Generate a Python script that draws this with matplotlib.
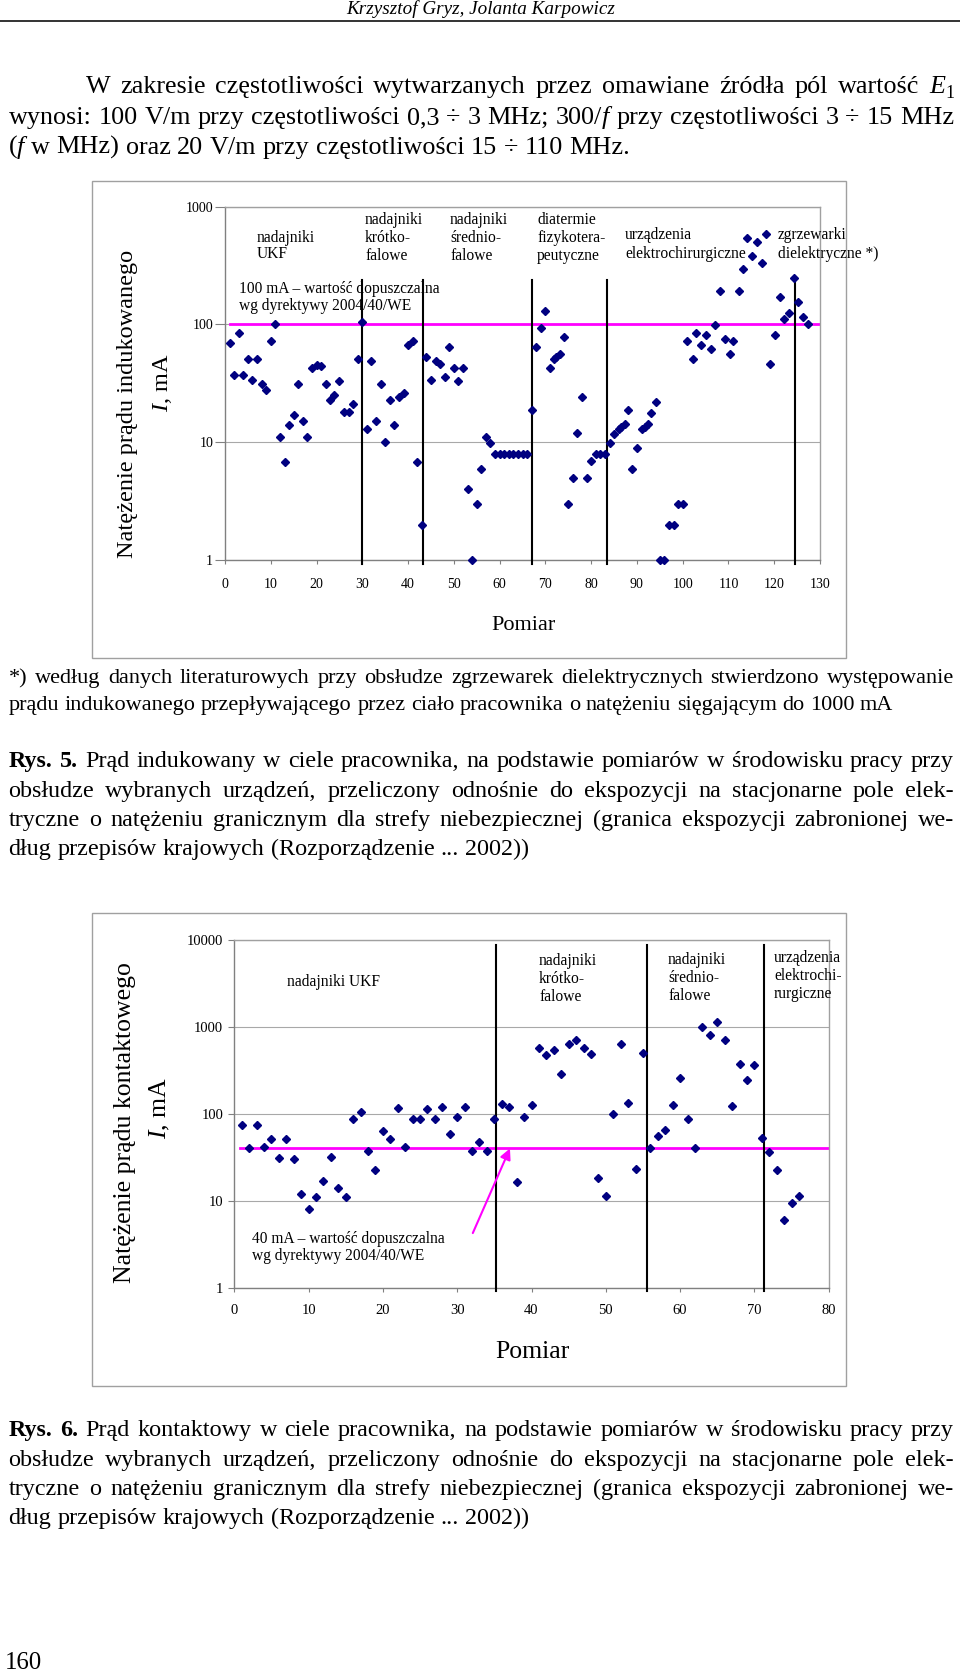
import re
import matplotlib
matplotlib.use('Agg')
import matplotlib.pyplot as plt
from matplotlib.patches import Rectangle
from matplotlib.lines import Line2D
from matplotlib.ticker import NullLocator, FixedLocator, FixedFormatter

W, H, DPI = 960, 1676, 100
SERIF = ['Liberation Serif', 'DejaVu Serif']
plt.rcParams['font.family'] = SERIF
plt.rcParams['mathtext.fontset'] = 'custom'
plt.rcParams['mathtext.rm'] = 'Liberation Serif'
plt.rcParams['mathtext.it'] = 'Liberation Serif:italic'

# ================= DATA: Rys. 5 - induced current =================
ind_x = [1, 2, 3, 4, 5, 6, 7, 8, 9, 10,
         11, 12, 13, 14, 15, 16, 17, 18, 19, 20,
         21, 22, 23, 23.8, 25, 26, 27, 28, 29, 30,
         31, 32, 33, 34, 35, 36, 37, 38, 39, 40,
         41, 42, 43, 44, 45, 46, 47, 48, 49, 50,
         51, 52, 53, 54, 55, 56, 57, 58, 59, 60,
         61, 62, 63, 64, 65, 66, 67, 68, 69, 70,
         71, 71.8, 72.4, 73.1, 74, 75, 76, 77, 78, 79,
         80, 81, 82, 83, 84.2, 84.9, 86, 86.5, 87.3, 88,
         89, 90, 91.2, 91.8, 92.4, 93.1, 94.1, 95.1, 95.9, 97,
         98, 99, 100, 101, 102.3, 103, 104, 105.2, 106.2, 107.1,
         108.1, 109.3, 110.3, 111.1, 112.2, 113.2, 114.1, 115.2, 116.2, 117.3,
         118.1, 119.1, 120.2, 121.2, 122.1, 123.2, 124.3, 125.2, 126.2, 127.4]
ind_y = [69, 37, 84, 37, 51, 34, 51, 31, 28, 72,
         100, 11, 6.8, 14, 17, 31, 15, 11, 43, 45,
         44, 31, 23, 25, 33, 18, 18, 21, 51, 104,
         13, 49, 15, 31, 10, 23, 14, 24, 26, 67,
         73, 6.8, 2, 53, 34, 49, 46, 36, 64, 43,
         33, 43, 4, 1, 3, 5.9, 11, 9.8, 8, 8,
         8, 8, 8, 8, 8, 8, 18.8, 64, 93, 130,
         43, 51, 53, 56, 78, 3, 5, 11.9, 24, 5,
         6.9, 8, 8, 8, 9.9, 11.7, 12.9, 13.4, 14.2, 18.8,
         5.9, 9, 12.9, 13.6, 14.2, 17.8, 21.9, 1, 1, 2,
         2, 3, 3, 73, 51, 85, 67, 81, 61.5, 98,
         194, 76, 56, 72, 194, 296, 538, 384, 505, 330,
         586, 46, 81, 172, 111, 124, 250, 156, 115, 100]
ind_limit = 100
ind_dividers = [30, 43.2, 67, 83.4, 124.6]
ind_xticks = list(range(0, 131, 10))
ind_yticks = [1, 10, 100, 1000]

# ================= DATA: Rys. 6 - contact current =================
con_x = list(range(1, 77))
con_y = [75, 41, 75, 42, 52, 31, 52, 30, 12, 8.1,
         11, 17, 32, 14, 11, 87, 106, 37, 22.5, 63,
         52, 116, 42, 87, 87, 113, 87, 121, 59, 93,
         121, 37, 48, 37, 87, 130, 121, 16.4, 93, 127,
         578, 477, 540, 288, 638, 709, 578, 494, 18.5, 11.4,
         100, 638, 135, 23, 507, 41, 55, 65, 127, 257,
         88, 41, 990, 809, 1150, 703, 124, 376, 246, 366,
         53, 36, 22.7, 6.05, 9.4, 11.4]
con_limit = 40
con_dividers = [35.2, 55.6, 71.3]
con_xticks = list(range(0, 81, 10))
con_yticks = [1, 10, 100, 1000, 10000]

# ================= TEXT =================
header = 'Krzysztof Gryz, Jolanta Karpowicz'
para = ['W zakresie częstotliwości wytwarzanych przez omawiane źródła pól wartość <i>E</i><s>1</s>',
        'wynosi: 100 V/m przy częstotliwości 0,3 ÷ 3 MHz; 300/<i>f</i> przy częstotliwości 3 ÷ 15 MHz',
        '(<i>f</i> w MHz)  oraz 20 V/m przy częstotliwości 15 ÷ 110 MHz.']
foot = ['*) według danych literaturowych przy obsłudze zgrzewarek dielektrycznych stwierdzono występowanie',
        'prądu indukowanego przepływającego przez ciało pracownika o natężeniu sięgającym do 1000 mA']
cap_tail = ['obsłudze wybranych urządzeń, przeliczony odnośnie do ekspozycji na stacjonarne pole elek-',
            'tryczne o natężeniu granicznym dla strefy niebezpiecznej (granica ekspozycji zabronionej we-',
            'dług przepisów krajowych (Rozporządzenie ... 2002))']
cap5 = ['<b>Rys.</b> <b>5.</b> Prąd indukowany w ciele pracownika, na podstawie pomiarów w środowisku pracy przy'] + cap_tail
cap6 = ['<b>Rys.</b> <b>6.</b> Prąd kontaktowy w ciele pracownika, na podstawie pomiarów w środowisku pracy przy'] + cap_tail

fig = plt.figure(figsize=(W / DPI, H / DPI), dpi=DPI)
renderer = fig.canvas.get_renderer()

TOKEN_RE = re.compile(r'<(i|b|s)>(.*?)</\1>|([^<]+)')


def parse_word(tok):
    runs = []
    for m in TOKEN_RE.finditer(tok):
        if m.group(3) is not None:
            runs.append((m.group(3), ''))
        else:
            runs.append((m.group(2), m.group(1)))
    return runs


def run_kw(style, size):
    kw = dict(fontsize=size, family=SERIF)
    if style == 'i':
        kw['fontstyle'] = 'italic'
    if style == 'b':
        kw['fontweight'] = 'bold'
    if style == 's':
        kw['fontsize'] = size * 0.68
    return kw


def text_width(s, kw):
    t = fig.text(0, 0, s, **kw)
    w = t.get_window_extent(renderer).width
    t.remove()
    return w


def word_width(runs, size):
    return sum(text_width(s, run_kw(st, size)) for s, st in runs)


def split_words(line):
    return [parse_word(w) for w in line.split(' ') if w != '']


def natural_width(line, size):
    words = split_words(line)
    return sum(word_width(w, size) for w in words) + 0.25 * size * DPI / 72 * (len(words) - 1)


def draw_line(line, x0, x1, base, size, justify):
    words = split_words(line)
    widths = [word_width(w, size) for w in words]
    sp = 0.25 * size * DPI / 72
    if justify and len(words) > 1:
        sp = (x1 - x0 - sum(widths)) / (len(words) - 1)
    x = x0
    for runs, w in zip(words, widths):
        xx = x
        for s, st in runs:
            kw = run_kw(st, size)
            dy = 0.2 * size * DPI / 72 if st == 's' else 0
            fig.text(xx / W, 1 - (base + dy) / H, s, ha='left', va='baseline', **kw)
            xx += text_width(s, kw)
        x += w + sp


def fit_size(line, target):
    return 10 * target / natural_width(line, 10)


# ---------- header ----------
hs = 10 * 269 / text_width(header, dict(fontsize=10, fontstyle='italic'))
fig.text(481 / W, 1 - 14 / H, header, ha='center', va='baseline', fontsize=hs, fontstyle='italic')
fig.add_artist(Line2D([0, 1], [1 - 21.5 / H] * 2, color='#333333', lw=1.4, transform=fig.transFigure))

# ---------- paragraph ----------
LM, RM = 8.5, 954
ps = min(fit_size(para[2], 632), 0.99 * fit_size(para[0], RM - 85.5), 0.99 * fit_size(para[1], RM - LM))
draw_line(para[0], 85.5, RM, 93, ps, True)
draw_line(para[1], LM, RM, 124, ps, True)
draw_line(para[2], LM, RM, 154, ps, False)

# ---------- footnote ----------
fs = 0.985 * fit_size(foot[0], RM - LM)
draw_line(foot[0], LM, RM, 683, fs, True)
draw_line(foot[1], LM, RM, 710, fs, False)

# ---------- captions ----------
cs = 0.985 * min(fit_size(l, RM - LM) for l in cap5[:3] + cap6[:3])
for i, (ln, b) in enumerate(zip(cap5, [767, 797, 826, 855])):
    draw_line(ln, LM, RM, b, cs, i < 3)
for i, (ln, b) in enumerate(zip(cap6, [1436, 1466, 1495, 1524])):
    draw_line(ln, LM, RM, b, cs, i < 3)

pn = 10 * 37 / text_width('160', dict(fontsize=10))
fig.text(5 / W, 1 - 1669 / H, '160', ha='left', va='baseline', fontsize=pn)

# ---------- chart frames ----------
for (l, t, r, b) in [(92, 181, 846, 658), (92, 913, 846, 1386)]:
    fig.add_artist(Rectangle((l / W, 1 - b / H), (r - l) / W, (b - t) / H, transform=fig.transFigure,
                             fill=False, ec='#a0a0a0', lw=1.0))


def style_axes(ax, xmax, ymin, ymax, xticks, yticks, tfs, ylen, ypad, xpad):
    ax.set_yscale('log')
    ax.set_xlim(0, xmax)
    ax.set_ylim(ymin, ymax)
    ax.xaxis.set_major_locator(FixedLocator(xticks))
    ax.xaxis.set_major_formatter(FixedFormatter([str(v) for v in xticks]))
    ax.yaxis.set_major_locator(FixedLocator(yticks))
    ax.yaxis.set_major_formatter(FixedFormatter([str(v) for v in yticks]))
    ax.yaxis.set_minor_locator(NullLocator())
    ax.xaxis.set_minor_locator(NullLocator())
    ax.grid(axis='y', which='major', color='#a8a8a8', lw=0.8)
    ax.set_axisbelow(True)
    ax.tick_params(axis='y', direction='out', length=ylen, width=0.8, color='#808080', labelsize=tfs, pad=ypad)
    ax.tick_params(axis='x', direction='out', length=3, width=0.8, color='#808080', labelsize=tfs, pad=xpad)
    for s in ['left', 'bottom']:
        ax.spines[s].set_color('#808080')
    for s in ['top', 'right']:
        ax.spines[s].set_color('#a0a0a0')
    for s in ax.spines.values():
        s.set_linewidth(1.0)
    ax.patch.set_alpha(0)


MAG = '#ff00ff'
NAVY = '#000080'

# ---------- chart 1 ----------
ax1 = fig.add_axes([225 / W, 1 - 560 / H, 595 / W, 353.3 / H])
style_axes(ax1, 130, 1, 1000, ind_xticks, ind_yticks, 10, 7, 1.5, 10)
ax1.plot([1, 130], [ind_limit, ind_limit], color=MAG, lw=2.0, zorder=2)
for d in ind_dividers:
    ax1.axvline(d, ymin=-0.012, ymax=0.7925, color='black', lw=1.5, zorder=3, clip_on=False)
ax1.plot(ind_x, ind_y, ls='none', marker='D', ms=4.3, color=NAVY, zorder=4, clip_on=False)

# ---------- chart 2 ----------
ax2 = fig.add_axes([234.3 / W, 1 - 1287.7 / H, 594.4 / W, 347.7 / H])
style_axes(ax2, 80, 1, 10000, con_xticks, con_yticks, 10.5, 4.5, 3.5, 9)
ax2.plot([0.8, 80], [con_limit, con_limit], color=MAG, lw=2.0, zorder=2)
for d in con_dividers:
    ax2.axvline(d, ymin=-0.01, ymax=0.986, color='black', lw=1.5, zorder=3, clip_on=False)
ax2.plot(con_x, con_y, ls='none', marker='D', ms=4.3, color=NAVY, zorder=4, clip_on=False)
ax2.annotate('', xy=(37.1, 40), xytext=(32.1, 4.25),
             arrowprops=dict(arrowstyle='-|>', color=MAG, lw=1.5, mutation_scale=16, shrinkA=0, shrinkB=0),
             zorder=5)

# ---------- chart labels ----------
AS = 11.2


def lines_at(x, bases, lines, size=AS):
    for b, s in zip(bases, lines):
        fig.text(x / W, 1 - b / H, s, ha='left', va='baseline', fontsize=size)


lines_at(257, [241.7, 258.3], ['nadajniki', 'UKF'])
lines_at(365, [224, 242, 260], ['nadajniki', 'krótko-', 'falowe'])
lines_at(450, [224, 242, 260], ['nadajniki', 'średnio-', 'falowe'])
lines_at(537, [224, 242, 260], ['diatermie', 'fizykotera-', 'peutyczne'])
lines_at(625, [239, 257.7], ['urządzenia', 'elektrochirurgiczne'])
lines_at(778, [239, 257.7], ['zgrzewarki', 'dielektryczne *)'])
lines_at(239, [293.3, 310], ['100 mA – wartość dopuszczalna', 'wg dyrektywy 2004/40/WE'])

lines_at(287, [985.7], ['nadajniki UKF'])
lines_at(539, [965, 983.3, 1001], ['nadajniki', 'krótko-', 'falowe'])
lines_at(668, [964.3, 981.7, 1000], ['nadajniki', 'średnio-', 'falowe'])
lines_at(774, [961.7, 980, 997.7], ['urządzenia', 'elektrochi-', 'rurgiczne'])
lines_at(252, [1243.3, 1260], ['40 mA – wartość dopuszczalna', 'wg dyrektywy 2004/40/WE'])

fig.text(127 / W, 1 - 404 / H, 'Natężenie prądu indukowanego', rotation=90, ha='center', va='center', fontsize=17.5)
fig.text(162 / W, 1 - 383 / H, r'$I$, mA', rotation=90, ha='center', va='center', fontsize=17.5)
fig.text(523 / W, 1 - 625 / H, 'Pomiar', ha='center', va='center', fontsize=16)

fig.text(125 / W, 1 - 1123 / H, 'Natężenie prądu kontaktowego', rotation=90, ha='center', va='center', fontsize=18.5)
fig.text(160 / W, 1 - 1108 / H, r'$I$, mA', rotation=90, ha='center', va='center', fontsize=18.5)
fig.text(532 / W, 1 - 1352 / H, 'Pomiar', ha='center', va='center', fontsize=18.5)

fig.savefig('out.png', dpi=DPI)
